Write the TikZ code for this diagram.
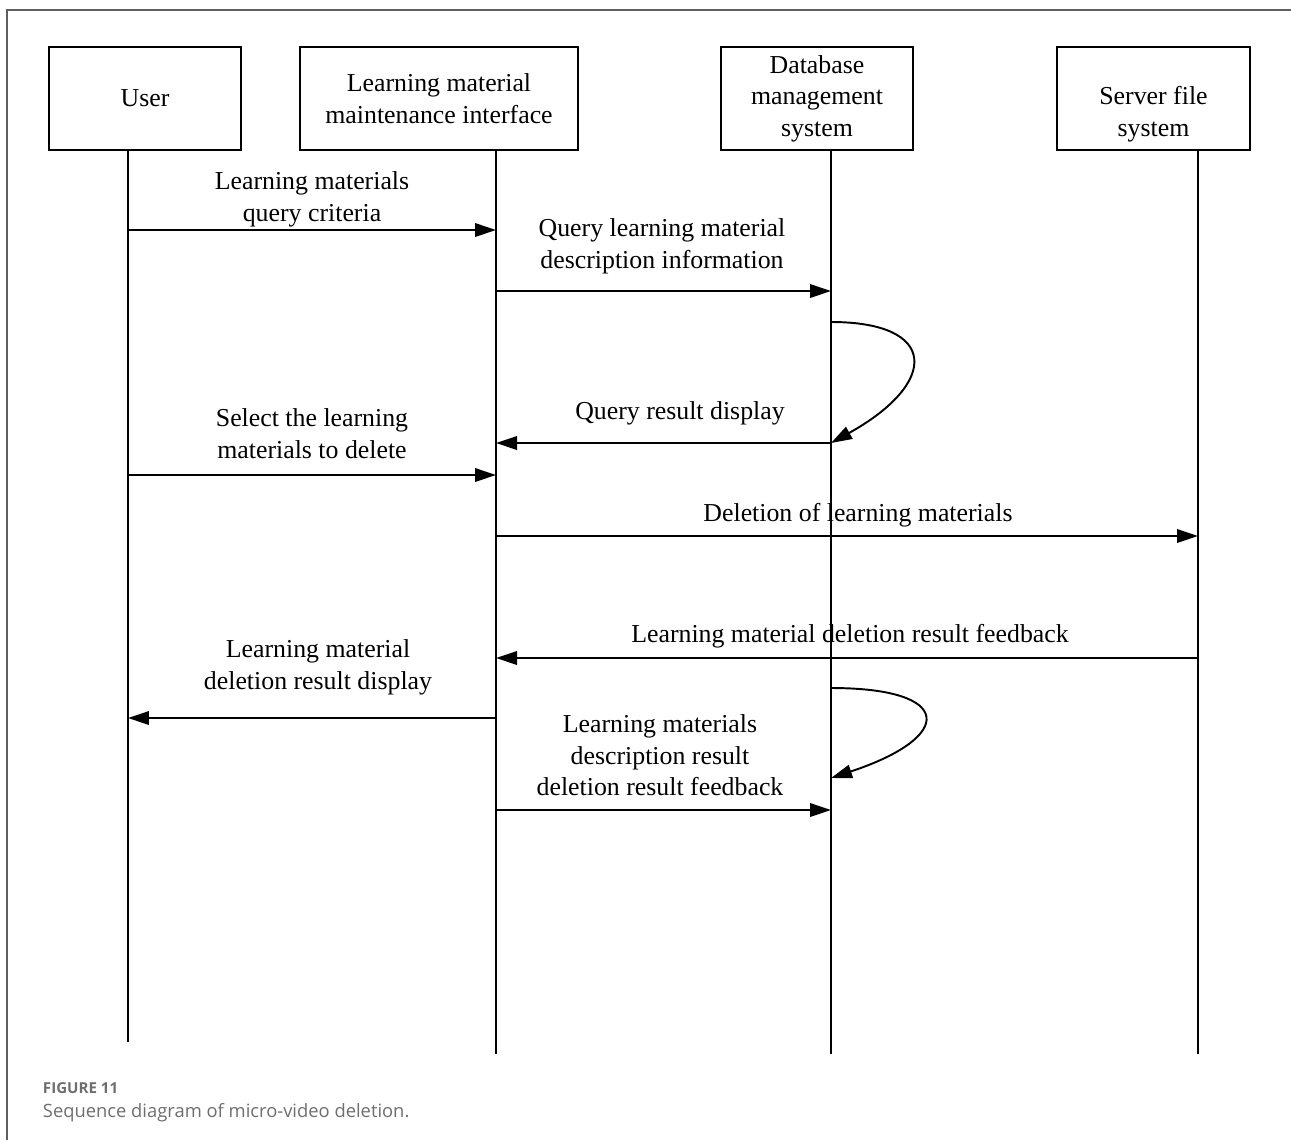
\documentclass[tikz,border=0pt]{standalone}
\usepackage{fontspec}
\setmainfont{Liberation Serif}
\newfontfamily\capfont{Open Sans}
\usetikzlibrary{arrows.meta}
\definecolor{capgray}{RGB}{110,110,110}
\definecolor{framegray}{RGB}{95,95,95}

\begin{document}
\begin{tikzpicture}[x=0.02cm, y=-0.02cm, line width=1.1pt,
	every node/.style={font=\fontsize{14.7}{17.9}\selectfont},
	actor/.style={draw, align=center, minimum height=2.06cm, inner sep=0pt},
	lbl/.style={align=center, inner sep=0pt},
	msg/.style={-{Triangle[length=0.42cm,width=0.27cm]}}]
	\useasboundingbox (0,0) rectangle (1291,1140);

	% frame of the figure
	\draw[framegray, line width=1pt] (7,1140) -- (7,10) -- (1291,10);

	% actors
	\node[actor, minimum width=3.84cm] (user) at (145,98.5) {User};
	\node[actor, minimum width=5.56cm] (lmmi) at (439,98.5) {Learning material\\maintenance interface};
	\node[actor, minimum width=3.84cm] (dbms) at (817,98.5) {Database\\management\\system};
	\node[actor, minimum width=3.86cm,
		label={[lbl, yshift=-0.31cm]center:{Server file\\system}}] (server) at (1153.5,98.5) {};

	% lifelines
	\coordinate (userl) at (128,150);
	\coordinate (lmmil) at (496,150);
	\coordinate (dbmsl) at (831,150);
	\coordinate (serverl) at (1198,150);
	\coordinate (userb) at (128,1042);
	\coordinate (lmmib) at (496,1054);
	\coordinate (dbmsb) at (831,1054);
	\coordinate (serverb) at (1198,1054);
	\draw (userl) -- (userb);
	\draw (lmmil) -- (lmmib);
	\draw (dbmsl) -- (dbmsb);
	\draw (serverl) -- (serverb);

	% messages
	\node[lbl] (t1) at (312,199.5) {Learning materials\\query criteria};
	\draw[msg] (userl |- 0,230) -- (lmmil |- 0,230);

	\node[lbl] (t2) at (662,246.5) {Query learning material\\description information};
	\draw[msg] (lmmil |- 0,291) -- (dbmsl |- 0,291);

	\draw[msg] (dbmsl |- 0,322) .. controls (939,322) and (939,383) .. (dbmsl |- 0,443);

	\node[lbl] (t3) at (680,413) {Query result display};
	\draw[msg] (dbmsl |- 0,443) -- (lmmil |- 0,443);

	\node[lbl] (t4) at (312,433.5) {Select the learning\\materials to delete};
	\draw[msg] (userl |- 0,475) -- (lmmil |- 0,475);

	\node[lbl] (t5) at (858,515) {Deletion of learning materials};
	\draw[msg] (lmmil |- 0,536) -- (serverl |- 0,536);

	\node[lbl] (t6) at (850,636) {Learning material deletion result feedback};
	\draw[msg] (serverl |- 0,658) -- (lmmil |- 0,658);

	\node[lbl] (t7) at (318,667.5) {Learning material\\deletion result display};
	\draw[msg] (lmmil |- 0,718) -- (userl |- 0,718);

	\draw[msg] (dbmsl |- 0,688) .. controls (955,688) and (955,737) .. (dbmsl |- 0,778);

	\node[lbl] (t8) at (660,755.5) {Learning materials\\description result\\deletion result feedback};
	\draw[msg] (lmmil |- 0,810) -- (dbmsl |- 0,810);

	% caption
	\node[anchor=base west, inner sep=0pt, text=capgray,
		font=\capfont\fontsize{8.6}{10}\selectfont\bfseries] (fignum) at (42,1093) {FIGURE 11};
	\node[anchor=base west, inner sep=0pt, text=capgray,
		font=\capfont\fontsize{10.45}{12}\selectfont] (figcap) at (42,1117) {Sequence diagram of micro-video deletion.};
\end{tikzpicture}
\end{document}
